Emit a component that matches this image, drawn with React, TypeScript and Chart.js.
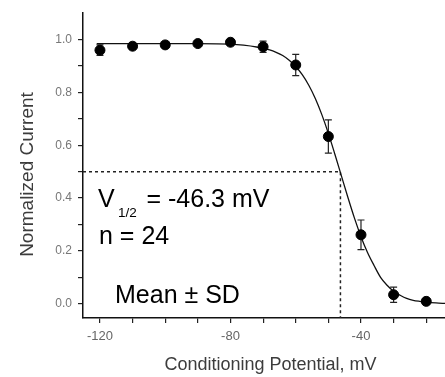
import React, { useEffect, useRef } from 'react';
import { Chart, registerables } from 'chart.js';

Chart.register(...registerables);

// Measured points (mean ± SD)
const VOLTAGES = [-120, -110, -100, -90, -80, -70, -60, -50, -40, -30, -20];
const MEAN_CURRENT = [0.960, 0.975, 0.980, 0.985, 0.990, 0.973, 0.904, 0.633, 0.261, 0.034, 0.009];
const SD_CURRENT = [0.020, 0.012, 0.008, 0.008, 0.010, 0.021, 0.040, 0.063, 0.056, 0.029, 0.010];

// Fitted curve
const FIT_V = [-121, -110, -100, -90, -80, -76, -72, -68, -66, -64, -62, -60, -58, -56, -54, -52, -50, -48, -46, -44, -42, -40, -38, -36, -34, -32, -30, -28, -26, -24, -22, -20, -17, -14];
const FIT_I = [0.985, 0.985, 0.985, 0.985, 0.983, 0.979, 0.972, 0.961, 0.952, 0.940, 0.922, 0.898, 0.867, 0.827, 0.777, 0.716, 0.645, 0.566, 0.484, 0.402, 0.324, 0.254, 0.194, 0.145, 0.100, 0.070, 0.047, 0.032, 0.020, 0.013, 0.009, 0.006, 0.003, 0.001];

// V1/2 guide
const V_HALF = -46.3;
const I_HALF = 0.5;

// Axes
const X_MIN = -125.2;
const X_MAX = -14.25;
const Y_MIN = -0.054;
const Y_MAX = 1.1;
const X_TICKS = [-120, -110, -100, -90, -80, -70, -60, -50, -40, -30, -20];
const X_TICK_LABELS = ['-120', '', '', '', '-80', '', '', '', '-40', '', ''];
const Y_TICKS = [0.0, 0.1, 0.2, 0.3, 0.4, 0.5, 0.6, 0.7, 0.8, 0.9, 1.0];
const Y_TICK_LABELS = ['0.0', '', '0.2', '', '0.4', '', '0.6', '', '0.8', '', '1.0'];

const X_TITLE = 'Conditioning Potential, mV';
const Y_TITLE = 'Normalized Current';
const V_LABEL = 'V';
const V_SUB = '1/2';
const V_VALUE = '= -46.3 mV';
const N_LABEL = 'n = 24';
const STAT_LABEL = 'Mean \u00B1 SD';

const FONT = '"Liberation Sans", Arial, Helvetica, sans-serif';

export default function App() {
  const ref = useRef<HTMLCanvasElement | null>(null);

  useEffect(() => {
    const canvas = ref.current;
    if (!canvas) return;

    const errorBars = {
      id: 'errorBars',
      beforeDatasetsDraw(chart: any) {
        const { ctx, scales } = chart;
        const xs = scales.x;
        const ys = scales.y;
        ctx.save();
        ctx.strokeStyle = '#222';
        ctx.lineWidth = 1.2;
        VOLTAGES.forEach((v, i) => {
          const x = xs.getPixelForValue(v);
          const yt = ys.getPixelForValue(MEAN_CURRENT[i] + SD_CURRENT[i]);
          const yb = ys.getPixelForValue(MEAN_CURRENT[i] - SD_CURRENT[i]);
          ctx.beginPath();
          ctx.moveTo(x, yt);
          ctx.lineTo(x, yb);
          ctx.moveTo(x - 3.5, yt);
          ctx.lineTo(x + 3.5, yt);
          ctx.moveTo(x - 3.5, yb);
          ctx.lineTo(x + 3.5, yb);
          ctx.stroke();
        });
        ctx.restore();
      },
    };

    const texts = {
      id: 'texts',
      afterDraw(chart: any) {
        const { ctx, chartArea } = chart;
        const L = chartArea.left;
        ctx.save();
        ctx.fillStyle = '#000';
        ctx.textBaseline = 'alphabetic';
        ctx.textAlign = 'left';
        ctx.font = `25px ${FONT}`;
        ctx.fillText(V_LABEL, L + 15, 207);
        ctx.font = `13.5px ${FONT}`;
        ctx.fillText(V_SUB, L + 35, 217);
        ctx.font = `25px ${FONT}`;
        ctx.fillText(V_VALUE, L + 63.5, 207);
        ctx.fillText(N_LABEL, L + 16, 244);
        ctx.fillText(STAT_LABEL, L + 32, 303);

        // axis titles
        ctx.fillStyle = '#3c3c3c';
        ctx.font = `18px ${FONT}`;
        ctx.textAlign = 'center';
        ctx.textBaseline = 'middle';
        ctx.fillText(X_TITLE, 270.5, 365);
        ctx.translate(28, 174.5);
        ctx.rotate(-Math.PI / 2);
        ctx.font = `19px ${FONT}`;
        ctx.fillText(Y_TITLE, 0, 0);
        ctx.restore();
      },
    };

    const chart = new Chart(canvas, {
      type: 'scatter',
      data: {
        datasets: [
          {
            label: 'Mean',
            data: VOLTAGES.map((v, i) => ({ x: v, y: MEAN_CURRENT[i] })),
            backgroundColor: '#000',
            borderColor: '#000',
            borderWidth: 1,
            pointRadius: 5,
            pointHoverRadius: 5,
            showLine: false,
            order: 0,
          },
          {
            label: 'Fit',
            data: FIT_V.map((v, i) => ({ x: v, y: FIT_I[i] })),
            showLine: true,
            borderColor: '#111',
            borderWidth: 1.3,
            pointRadius: 0,
            cubicInterpolationMode: 'monotone',
            order: 1,
          },
          {
            label: 'Half',
            data: [
              { x: X_MIN, y: I_HALF },
              { x: V_HALF, y: I_HALF },
              { x: V_HALF, y: Y_MIN },
            ],
            showLine: true,
            borderColor: '#222',
            borderWidth: 1.5,
            borderDash: [3, 3],
            pointRadius: 0,
            order: 2,
          },
        ],
      } as any,
      options: {
        animation: false,
        responsive: false,
        devicePixelRatio: 1,
        layout: { autoPadding: false, padding: { top: 8, right: 0, left: 0, bottom: 0 } },
        plugins: {
          legend: { display: false },
          tooltip: { enabled: false },
          title: { display: false },
        },
        scales: {
          x: {
            type: 'linear',
            min: X_MIN,
            max: X_MAX,
            afterBuildTicks: (scale: any) => {
              scale.ticks = X_TICKS.map((v) => ({ value: v }));
            },
            afterFit: (scale: any) => {
              scale.height = 59;
            },
            border: { display: true, color: '#111', width: 1.5 },
            grid: { display: true, drawOnChartArea: false, drawTicks: true, tickLength: 5, color: '#222', lineWidth: 1.2 },
            ticks: {
              autoSkip: false,
              maxRotation: 0,
              minRotation: 0,
              padding: 6,
              color: '#666',
              font: { family: FONT, size: 13 },
              callback: (_v: any, i: number) => X_TICK_LABELS[i],
            },
            title: { display: false },
          },
          y: {
            type: 'linear',
            min: Y_MIN,
            max: Y_MAX,
            afterBuildTicks: (scale: any) => {
              scale.ticks = Y_TICKS.map((v) => ({ value: v }));
            },
            afterFit: (scale: any) => {
              scale.width = 83;
            },
            border: { display: true, color: '#111', width: 1.5 },
            grid: { display: true, drawOnChartArea: false, drawTicks: true, tickLength: 5, color: '#222', lineWidth: 1.2 },
            ticks: {
              autoSkip: false,
              padding: 6,
              color: '#777',
              font: { family: FONT, size: 12 },
              callback: (_v: any, i: number) => Y_TICK_LABELS[i],
            },
            title: { display: false },
          },
        },
      } as any,
      plugins: [errorBars, texts],
    });

    return () => chart.destroy();
  }, []);

  return (
    <div style={{ position: 'absolute', left: 0, top: 0, width: 445, height: 377, background: '#fff' }}>
      <canvas ref={ref} width={445} height={377} style={{ display: 'block', width: 445, height: 377 }} />
    </div>
  );
}
